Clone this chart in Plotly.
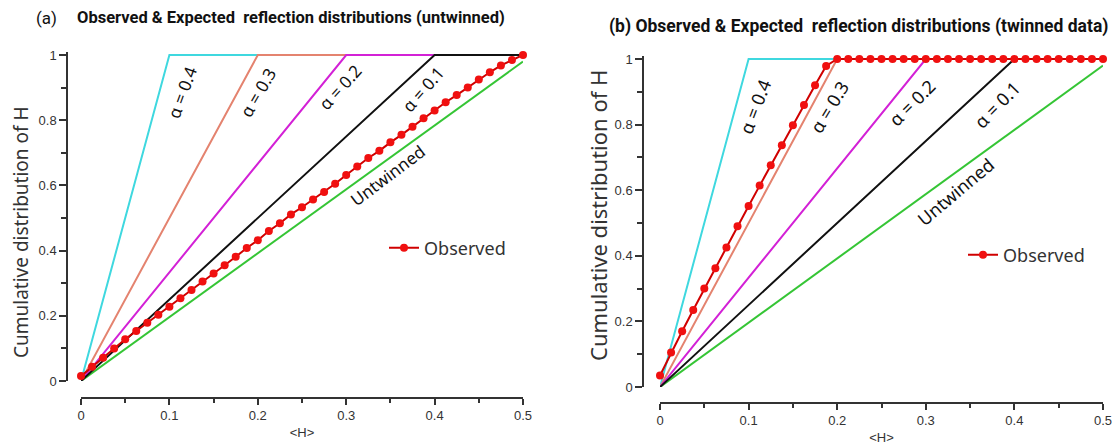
import plotly.graph_objects as go

W, Hpx = 1120, 448

# ---------------- data ----------------
H_grid = [round(k * 0.0125, 4) for k in range(41)]

# break points (where each expected curve reaches 1)
alpha_labels = ["α = 0.4", "α = 0.3", "α = 0.2", "α = 0.1"]
alpha_break_H = [0.1, 0.2, 0.3, 0.4]
alpha_colors = ["#3FD8DF", "#E4836F", "#D321D6", "#111111"]
untwinned_end_value = 0.98
untwinned_color = "#35C535"

obs_a = [0.015, 0.044, 0.071, 0.100, 0.128, 0.153, 0.179, 0.203, 0.228, 0.254,
         0.279, 0.305, 0.330, 0.355, 0.381, 0.408, 0.432, 0.460, 0.484, 0.511,
         0.533, 0.557, 0.580, 0.605, 0.632, 0.658, 0.684, 0.706, 0.732, 0.755,
         0.780, 0.806, 0.830, 0.855, 0.877, 0.900, 0.925, 0.947, 0.968, 0.985, 1.000]

obs_b = [0.035, 0.105, 0.170, 0.235, 0.300, 0.362, 0.425, 0.490, 0.552, 0.614,
         0.676, 0.737, 0.798, 0.860, 0.920, 0.979, 1.000] + [1.0] * 24

x_ticks = [0, 0.1, 0.2, 0.3, 0.4, 0.5]
x_ticktext = ["0", "0.1", "0.2", "0.3", "0.4", "0.5"]
x_minor = [0.05, 0.15, 0.25, 0.35, 0.45]
y_ticks = [0, 0.2, 0.4, 0.6, 0.8, 1.0]
y_ticktext = ["0", "0.2", "0.4", "0.6", "0.8", "1"]
y_minor = [0.1, 0.3, 0.5, 0.7, 0.9]

# label placement (data coords of each panel)
label_pos_a = [(0.114, 0.886, -70), (0.200, 0.886, -60), (0.293, 0.899, -48), (0.387, 0.893, -49)]
untw_pos_a = (0.347, 0.629, -37)
label_pos_b = [(0.107, 0.854, -69), (0.191, 0.854, -59), (0.284, 0.866, -45), (0.380, 0.860, -46)]
untw_pos_b = (0.333, 0.595, -40)

Y_TOP = 1.008  # small headroom so the y=1 plateau lines are not clipped

# ---------------- helpers ----------------
def px(x):
    return x / W

def py(y):
    return 1 - y / Hpx

fig = go.Figure()

panels = [
    dict(xa="x", ya="y", obs=obs_a, lab=label_pos_a, untw=untw_pos_a, legend="legend", fs=17),
    dict(xa="x2", ya="y2", obs=obs_b, lab=label_pos_b, untw=untw_pos_b, legend="legend2", fs=18),
]

for p in panels:
    fig.add_trace(go.Scatter(x=[0, 0.5], y=[0, untwinned_end_value], mode="lines",
                             line=dict(color=untwinned_color, width=2),
                             xaxis=p["xa"], yaxis=p["ya"], showlegend=False, cliponaxis=False))
    for hb, col in zip(alpha_break_H, alpha_colors):
        fig.add_trace(go.Scatter(x=[0, hb, 0.5], y=[0, 1, 1], mode="lines",
                                 line=dict(color=col, width=2),
                                 xaxis=p["xa"], yaxis=p["ya"], showlegend=False, cliponaxis=False))
    fig.add_trace(go.Scatter(x=H_grid, y=p["obs"], mode="lines+markers", name="Observed",
                             line=dict(color="#D00000", width=2),
                             marker=dict(color="#F01010", size=8, symbol="circle"),
                             xaxis=p["xa"], yaxis=p["ya"], showlegend=True,
                             legend=p["legend"], cliponaxis=False))
    for (lx, ly, ang), txt in zip(p["lab"], alpha_labels):
        fig.add_annotation(x=lx, y=ly, xref=p["xa"], yref=p["ya"], text=txt, showarrow=False,
                           textangle=ang, font=dict(family="Noto Sans", size=p["fs"], color="#111"))
    ux, uy, ua = p["untw"]
    fig.add_annotation(x=ux, y=uy, xref=p["xa"], yref=p["ya"], text="Untwinned", showarrow=False,
                       textangle=ua, font=dict(family="Noto Sans", size=p["fs"], color="#111"))

tick_font = dict(family="Liberation Sans", size=13, color="#333")
axis_common = dict(showline=True, linecolor="#333", linewidth=1.5, ticks="outside",
                   tickcolor="#333", tickwidth=1.5, showgrid=False, zeroline=False,
                   tickfont=tick_font, automargin=False)

def xaxis(dom, pos):
    return dict(domain=[px(dom[0]), px(dom[1])], range=[0, 0.5], anchor="free", position=py(pos),
                tickvals=x_ticks, ticktext=x_ticktext, ticklen=6,
                minor=dict(tickvals=x_minor, ticklen=4, ticks="outside", tickcolor="#333", tickwidth=1.5),
                title=dict(text="&lt;H&gt;", font=dict(family="Liberation Sans", size=13, color="#333"), standoff=5),
                **axis_common)

def yaxis(dom, pos):
    top_px = dom[0] - (Y_TOP - 1) * (dom[1] - dom[0])
    return dict(domain=[py(dom[1]), py(top_px)], range=[0, Y_TOP], anchor="free", position=px(pos),
                tickvals=y_ticks, ticktext=y_ticktext, ticklen=7,
                minor=dict(tickvals=y_minor, ticklen=5, ticks="outside", tickcolor="#333", tickwidth=1.5),
                **axis_common)

fig.update_layout(
    width=W, height=Hpx, margin=dict(l=0, r=0, t=0, b=0, pad=0, autoexpand=False),
    paper_bgcolor="white", plot_bgcolor="white",
    xaxis=xaxis((81, 523), 398), yaxis=yaxis((55, 381), 67),
    xaxis2=xaxis((660, 1103), 403), yaxis2=yaxis((59, 387), 643),
    legend=dict(x=px(384), y=py(248), xanchor="left", yanchor="middle",
                font=dict(family="Noto Sans", size=18, color="#333"), bgcolor="rgba(0,0,0,0)"),
    legend2=dict(x=px(963), y=py(255), xanchor="left", yanchor="middle",
                 font=dict(family="Noto Sans", size=18, color="#333"), bgcolor="rgba(0,0,0,0)"),
)

# panel titles
fig.add_annotation(x=px(34), y=py(18), xref="paper", yref="paper", xanchor="left", yanchor="middle",
                   text="(a)", showarrow=False, font=dict(family="Roboto", size=17, color="#111"))
fig.add_annotation(x=px(75), y=py(18), xref="paper", yref="paper", xanchor="left", yanchor="middle",
                   text="<b>Observed &amp; Expected\u00a0 reflection distributions (untwinned)</b>",
                   showarrow=False, font=dict(family="Roboto", size=16.5, color="#111"))
fig.add_annotation(x=px(607), y=py(26), xref="paper", yref="paper", xanchor="left", yanchor="middle",
                   text="<b>(b) Observed &amp; Expected\u00a0 reflection distributions (twinned data)</b>",
                   showarrow=False, font=dict(family="Roboto", size=17.5, color="#111"))

# y-axis titles
fig.add_annotation(x=px(21), y=py(232), xref="paper", yref="paper", xanchor="center", yanchor="middle",
                   text="Cumulative distribution of H",
                   textangle=-90, showarrow=False, font=dict(family="Noto Sans", size=19, color="#333"))
fig.add_annotation(x=px(598), y=py(216), xref="paper", yref="paper", xanchor="center", yanchor="middle",
                   text="Cumulative distribution of H",
                   textangle=-90, showarrow=False, font=dict(family="Noto Sans", size=22, color="#333"))

fig.write_html("out.html", config={"displayModeBar": False},
               post_script="document.body.style.margin='0';document.body.style.padding='0';")
